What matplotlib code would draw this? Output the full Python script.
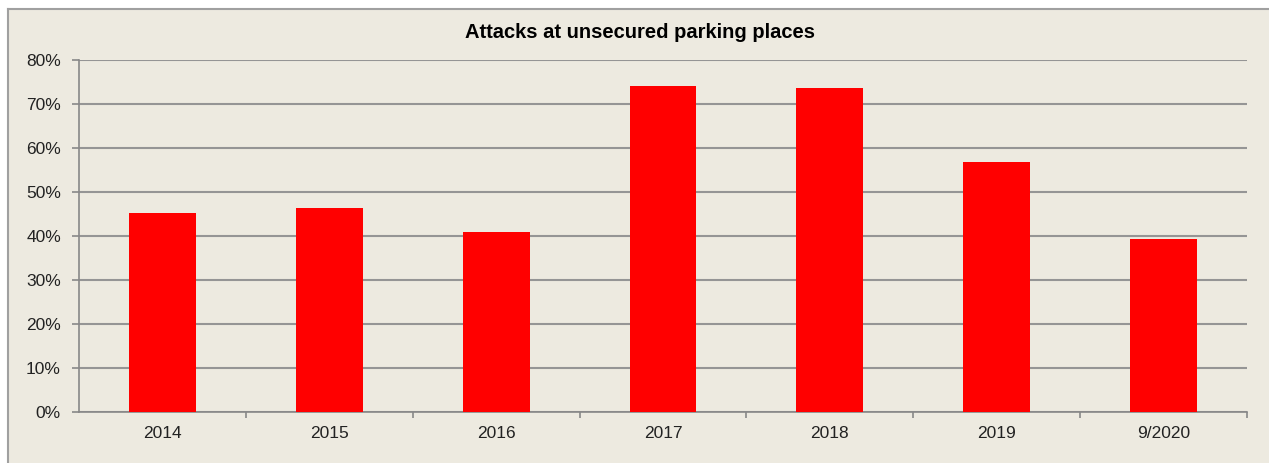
import matplotlib.pyplot as plt
from matplotlib.patches import Rectangle

years = ["2014", "2015", "2016", "2017", "2018", "2019", "9/2020"]
share = [45.1, 46.3, 40.9, 74.0, 73.6, 56.7, 39.2]  # percent of attacks
yticks = [0, 10, 20, 30, 40, 50, 60, 70, 80]

bg = "#edeae0"
grid = "#959595"

plt.rcParams["font.family"] = ["Liberation Sans", "DejaVu Sans"]

fig = plt.figure(figsize=(12.69, 4.63), dpi=100)
fig.patch.set_facecolor("white")

# chart area box: only top and left edges show
W, H = 1269, 463
fig.patches.append(Rectangle((8 / W, 0), 1 - 8 / W, 1 - 9 / H, transform=fig.transFigure,
                             facecolor=bg, edgecolor="none", zorder=-10))
fig.lines.append(plt.Line2D([8 / W, 8 / W], [0, 1 - 9 / H], transform=fig.transFigure,
                            color="#a0a0a0", lw=1.5, zorder=-9))
fig.lines.append(plt.Line2D([8 / W, 1], [1 - 9 / H, 1 - 9 / H], transform=fig.transFigure,
                            color="#a0a0a0", lw=1.5, zorder=-9))

left, right = 79 / W, 1247 / W
bottom, top = (H - 412) / H, (H - 59.5) / H
ax = fig.add_axes([left, bottom, right - left, top - bottom])
ax.set_facecolor("none")

x = list(range(len(years)))
ax.bar(x, share, width=0.4, color="#ff0000", zorder=3)

ax.set_xlim(-0.5, len(years) - 0.5)
ax.set_ylim(0, 80)
ax.set_yticks(yticks)
ax.set_yticklabels([f"{v}%" for v in yticks], fontsize=12.5, color="#222222")
ax.yaxis.grid(True, color=grid, lw=1.5, zorder=1)

# category labels centred, tick marks on the boundaries
ax.set_xticks(x)
ax.set_xticklabels(years, fontsize=12.5, color="#222222")
ax.tick_params(axis="x", length=0, pad=10)
ax.set_xticks([i + 0.5 for i in range(len(years))], minor=True)
ax.tick_params(axis="x", which="minor", length=4, width=1.2, color="#888888", direction="out")
ax.tick_params(axis="y", length=5, width=1.2, color="#888888", pad=8)

for s in ["top", "right"]:
    ax.spines[s].set_visible(False)
for s in ["left", "bottom"]:
    ax.spines[s].set_color("#888888")
    ax.spines[s].set_linewidth(1.2)

fig.text(640 / W, 1 - 32 / H, "Attacks at unsecured parking places", ha="center", va="center",
         fontsize=14.5, fontweight="bold", color="black")

fig.savefig("out.png", dpi=100)
